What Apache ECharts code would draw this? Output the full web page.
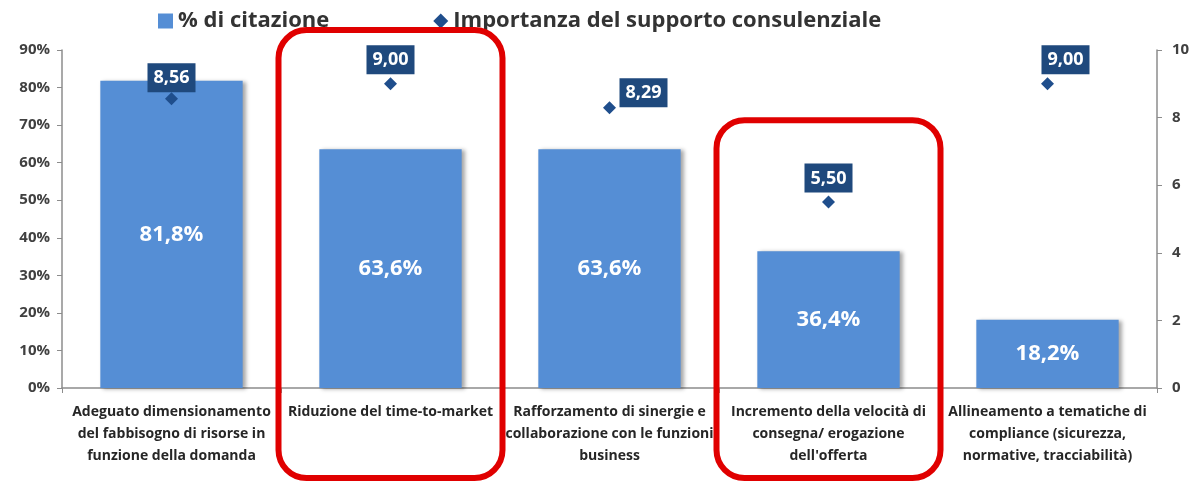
<!DOCTYPE html>
<html>
<head>
<meta charset="utf-8">
<script src="https://cdn.jsdelivr.net/npm/echarts@6/dist/echarts.min.js"></script>
<style>
  html, body { margin: 0; padding: 0; background: #fff; }
  #chart { width: 1196px; height: 487px; }
</style>
</head>
<body>
<div id="chart"></div>
<script>
// ---- data ----
const categories = [
  "Adeguato dimensionamento\ndel fabbisogno di risorse in\nfunzione della domanda",
  "Riduzione del time-to-market",
  "Rafforzamento di sinergie e\ncollaborazione con le funzioni\nbusiness",
  "Incremento della velocità di\nconsegna/ erogazione\ndell'offerta",
  "Allineamento a tematiche di\ncompliance (sicurezza,\nnormative, tracciabilità)"
];
const citazione = [81.8, 63.6, 63.6, 36.4, 18.2];
const importanza = [8.56, 9.00, 8.29, 5.50, 9.00];
const leftTicks = [0, 10, 20, 30, 40, 50, 60, 70, 80, 90];
const rightTicks = [0, 2, 4, 6, 8, 10];
const highlighted = [1, 3];
const labelOffsets = [[0, 3], [0, 0], [34, 9], [0, 0], [18, 0]];

const FONT = '"Open Sans", "Noto Sans", sans-serif';
const chart = echarts.init(document.getElementById('chart'));

const fmt = v => v.toFixed(2).replace('.', ',');
const fmtPct = v => v.toFixed(1).replace('.', ',') + '%';

chart.setOption({
  animation: false,
  textStyle: { fontFamily: FONT },
  grid: { left: 62, right: 39, top: 50, bottom: 99 },
  legend: {
    top: 5,
    left: 153,
    itemGap: 104,
    itemWidth: 15,
    itemHeight: 15,
    textStyle: { fontFamily: FONT, fontWeight: 'bold', fontSize: 22, color: '#333' },
    data: [
      { name: '% di citazione', icon: 'rect' },
      { name: 'Importanza del supporto consulenziale', icon: 'diamond' }
    ]
  },
  xAxis: {
    type: 'category',
    data: categories,
    axisLine: { lineStyle: { color: '#8c8c8c', width: 1.5 } },
    axisTick: { show: true, length: 5, lineStyle: { color: '#8c8c8c' } },
    axisLabel: {
      interval: 0,
      margin: 13,
      fontFamily: FONT,
      fontWeight: 'bold',
      fontSize: 14,
      lineHeight: 22,
      color: '#262626'
    }
  },
  yAxis: [
    {
      type: 'value', min: 0, max: 90, interval: 10,
      axisLine: { show: true, lineStyle: { color: '#8c8c8c', width: 1.5 } },
      axisTick: { show: true, length: 5, lineStyle: { color: '#8c8c8c' } },
      splitLine: { show: false },
      axisLabel: {
        formatter: v => leftTicks.includes(v) ? v + '%' : '',
        fontFamily: FONT, fontWeight: 'bold', fontSize: 15, color: '#404040', margin: 12
      }
    },
    {
      type: 'value', min: 0, max: 10, interval: 2,
      axisLine: { show: true, lineStyle: { color: '#8c8c8c', width: 1.5 } },
      axisTick: { show: true, length: 5, inside: false, lineStyle: { color: '#8c8c8c' } },
      splitLine: { show: false },
      axisLabel: {
        formatter: v => rightTicks.includes(v) ? String(v) : '',
        fontFamily: FONT, fontWeight: 'bold', fontSize: 15, color: '#404040', margin: 15
      }
    }
  ],
  series: [
    {
      name: '% di citazione',
      type: 'bar',
      yAxisIndex: 0,
      data: citazione,
      barCategoryGap: '35%',
      itemStyle: {
        color: '#558ED5',
        shadowColor: 'rgba(0,0,0,0.35)',
        shadowBlur: 4,
        shadowOffsetX: 3,
        shadowOffsetY: 1
      },
      label: {
        show: true,
        position: 'inside',
        formatter: p => fmtPct(p.value),
        color: '#fff',
        fontFamily: FONT,
        fontWeight: 'bold',
        fontSize: 22
      }
    },
    {
      name: 'Importanza del supporto consulenziale',
      type: 'line',
      yAxisIndex: 1,
      symbol: 'diamond',
      symbolSize: 13,
      lineStyle: { opacity: 0 },
      itemStyle: { color: '#1F4E8C' },
      data: importanza.map((v, i) => ({
        value: v,
        label: { offset: labelOffsets[i] }
      })),
      label: {
        show: true,
        position: 'top',
        distance: 3,
        formatter: p => fmt(p.value),
        backgroundColor: '#1F497D',
        color: '#fff',
        fontFamily: FONT,
        fontWeight: 'bold',
        fontSize: 18,
        padding: [6, 6, 5, 6]
      },
      z: 5
    }
  ]
});

// red highlight annotations around selected categories
function drawHighlights() {
  const tops = [95.3, 71.3];
  const graphics = highlighted.map((idx, k) => {
    const c = chart.convertToPixel({ xAxisIndex: 0 }, idx);
    const yTop = chart.convertToPixel({ yAxisIndex: 0 }, tops[k]);
    const halfW = 112;
    return {
      type: 'rect',
      shape: { x: c - halfW, y: yTop, width: halfW * 2, height: 478 - yTop, r: 28 },
      style: { fill: 'none', stroke: '#E00000', lineWidth: 6 },
      z: 100
    };
  });
  chart.setOption({ graphic: graphics });
}
drawHighlights();
</script>
</body>
</html>
